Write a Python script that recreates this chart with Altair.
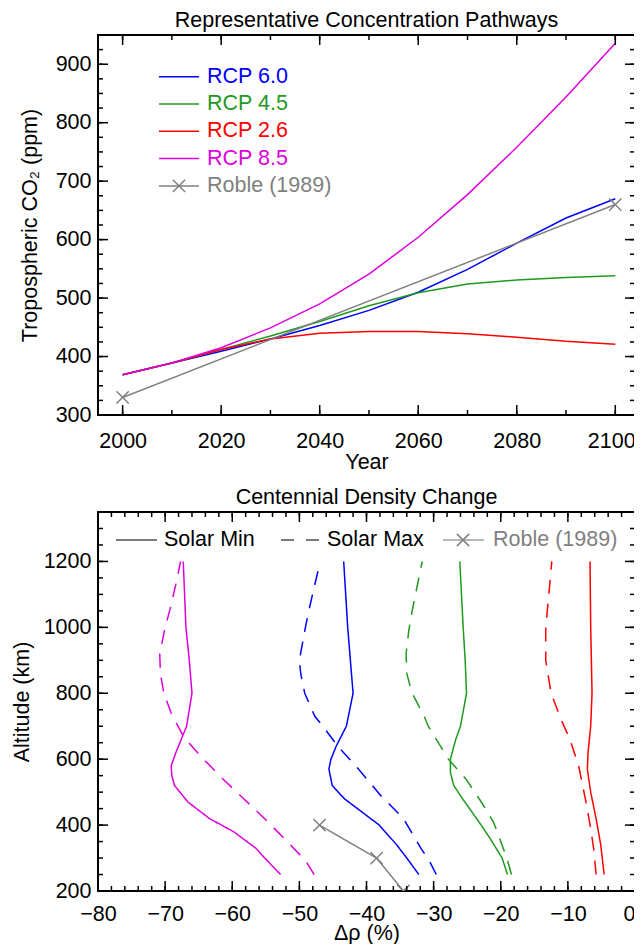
import altair as alt
import pandas as pd

FONT = "Liberation Sans"
FS = 21.5
GRAY = "#808080"
COLORS = {"RCP 6.0": "#0000FF", "RCP 4.5": "#1E9A1E", "RCP 2.6": "#FF0000", "RCP 8.5": "#DD00DD"}

# ---------------- top panel data (ppm) ----------------
years = [2000, 2010, 2020, 2030, 2040, 2050, 2060, 2070, 2080, 2090, 2100]
rcp60 = [369, 389, 409, 430, 453, 479, 510, 549, 594, 637, 670]
rcp45 = [369, 389, 412, 435, 460, 487, 509, 524, 531, 535, 538]
rcp26 = [369, 389, 412, 430, 440, 443, 443, 439, 433, 426, 421]
rcp85 = [369, 389, 415, 449, 490, 541, 604, 677, 758, 844, 936]
roble_years = [2000, 2100]
roble_co2 = [330, 660]

# ---------------- bottom panel data (altitude km, delta rho %) ----------------
alt85_min = [250, 290, 330, 380, 420, 470, 520, 550, 580, 620, 670, 700, 800, 900, 1000, 1200]
d85_min = [-52.8, -54.7, -56.5, -59.8, -63.4, -66.6, -68.6, -69.0, -69.1, -68.4, -67.4, -66.8, -66.0, -66.4, -66.9, -67.3]
alt85_max = [250, 290, 350, 420, 480, 550, 620, 670, 740, 800, 860, 920, 1000, 1060, 1140, 1200]
d85_max = [-47.8, -49.0, -51.8, -55.2, -58.3, -61.9, -65.2, -67.3, -69.1, -70.2, -70.7, -70.8, -70.0, -69.2, -68.3, -67.7]
alt60_min = [250, 300, 340, 400, 440, 480, 520, 570, 600, 640, 700, 800, 900, 1000, 1200]
d60_min = [-32.2, -34.0, -35.5, -38.1, -40.7, -43.3, -45.1, -45.6, -45.3, -44.5, -43.0, -42.0, -42.4, -42.8, -43.4]
alt60_max = [250, 290, 330, 420, 490, 570, 640, 700, 730, 800, 860, 900, 1000, 1050, 1130, 1190]
d60_max = [-29.6, -30.6, -31.9, -34.5, -37.9, -41.2, -44.3, -46.5, -47.7, -49.2, -49.8, -50.0, -49.1, -48.6, -47.7, -47.0]
alt45_min = [250, 300, 360, 420, 480, 520, 560, 600, 660, 700, 800, 900, 1000, 1200]
d45_min = [-19.0, -19.8, -21.6, -23.6, -25.7, -27.0, -27.5, -27.5, -26.7, -26.0, -25.1, -25.3, -25.6, -26.1]
alt45_max = [250, 300, 350, 410, 470, 540, 600, 660, 700, 730, 800, 860, 920, 990, 1050, 1130, 1200]
d45_max = [-18.4, -19.1, -20.0, -21.1, -22.9, -25.2, -27.8, -29.6, -30.8, -31.4, -33.2, -34.0, -34.1, -33.7, -33.2, -32.4, -31.7]
alt26_min = [250, 340, 420, 500, 570, 620, 700, 800, 1000, 1200]
d26_min = [-4.6, -5.1, -5.8, -6.6, -7.1, -7.0, -6.6, -6.4, -6.6, -6.7]
alt26_max = [250, 320, 390, 480, 580, 660, 720, 800, 900, 1000, 1130, 1200]
d26_max = [-5.8, -6.1, -6.6, -7.4, -8.4, -9.7, -11.0, -12.5, -13.3, -13.3, -12.7, -12.4]
roble_alt = [400, 300, 200]
roble_drho = [-47.0, -38.5, -34.5]

# ---------------- ticks ----------------
x1_major = list(range(2000, 2101, 20))
x1_minor = list(range(2000, 2101, 10))
y1_major = list(range(300, 901, 100))
y1_minor = list(range(300, 951, 25))
x2_major = list(range(-80, 1, 10))
x2_minor = list(range(-80, 1, 2))
y2_major = list(range(200, 1201, 200))
y2_minor = list(range(200, 1351, 50))

W1, H1 = 537, 380
W2, H2 = 537, 379
MAJ, MIN = 10, 5
XPATH = "M-1,-1L1,1M-1,1L1,-1"
XSIZE = 150

xs1 = alt.Scale(domain=[1995, 2104], nice=False, zero=False)
ys1 = alt.Scale(domain=[300, 950], nice=False, zero=False)
xs2 = alt.Scale(domain=[-80, 0], nice=False, zero=False)
ys2 = alt.Scale(domain=[200, 1350], nice=False, zero=False)


def axis(values, title, lp, tp, last=None, shift=0):
    kw = {}
    if last is not None:
        kw["labelOffset"] = alt.condition(f"datum.value == {last}", alt.value(shift), alt.value(0))
    return alt.Axis(values=values, title=title, ticks=False, domain=False, grid=False, format="d",
                    labelFlush=False, labelOverlap=False, labelPadding=lp, titlePadding=tp, **kw)


xa1 = axis(x1_major, "Year", 15, 0, last=2100, shift=-4)
ya1 = axis(y1_major, "Tropospheric CO₂ (ppm)", 7, 14)
xa2 = axis(x2_major, "Δρ (%)", 12, -2, last=0, shift=-6)
ya2 = axis(y2_major, "Altitude (km)", 7, 10)


def tick_layers(xvals_major, xvals_minor, yvals_major, yvals_minor, xs, ys, xa, ya, W, H):
    layers = []
    for vals, L in ((xvals_minor, MIN), (xvals_major, MAJ)):
        base = alt.Chart(pd.DataFrame({"v": vals})).mark_rule(color="black", strokeWidth=1.5)
        layers.append(base.encode(x=alt.X("v:Q", scale=xs, axis=xa), y=alt.value(H), y2=alt.value(H - L)))
        layers.append(base.encode(x=alt.X("v:Q", scale=xs, axis=xa), y=alt.value(0), y2=alt.value(L)))
    for vals, L in ((yvals_minor, MIN), (yvals_major, MAJ)):
        base = alt.Chart(pd.DataFrame({"v": vals})).mark_rule(color="black", strokeWidth=1.5)
        layers.append(base.encode(y=alt.Y("v:Q", scale=ys, axis=ya), x=alt.value(0), x2=alt.value(L)))
        layers.append(base.encode(y=alt.Y("v:Q", scale=ys, axis=ya), x=alt.value(W - L), x2=alt.value(W)))
    return layers


one = pd.DataFrame({"a": [0]})

# ---------------- top chart ----------------
rows = []
for name, vals in (("RCP 6.0", rcp60), ("RCP 4.5", rcp45), ("RCP 2.6", rcp26), ("RCP 8.5", rcp85)):
    for yr, v in zip(years, vals):
        rows.append({"year": yr, "co2": v, "series": name})
top_df = pd.DataFrame(rows)
roble_top = pd.DataFrame({"year": roble_years, "co2": roble_co2})

series_names = list(COLORS.keys())
color_scale = alt.Scale(domain=series_names, range=[COLORS[s] for s in series_names])

top_lines = alt.Chart(top_df).mark_line(strokeWidth=1.5, clip=True).encode(
    x=alt.X("year:Q", scale=xs1, axis=xa1),
    y=alt.Y("co2:Q", scale=ys1, axis=ya1),
    color=alt.Color("series:N", scale=color_scale, legend=None),
)
roble_line = alt.Chart(roble_top).mark_line(color=GRAY, strokeWidth=1.5, clip=True).encode(
    x=alt.X("year:Q", scale=xs1, axis=xa1), y=alt.Y("co2:Q", scale=ys1, axis=ya1))
roble_pts = alt.Chart(roble_top).mark_point(shape=XPATH, filled=False, color=GRAY, size=XSIZE,
                                             strokeWidth=1.5, opacity=1, clip=True).encode(
    x=alt.X("year:Q", scale=xs1, axis=xa1), y=alt.Y("co2:Q", scale=ys1, axis=ya1))

leg_top_names = ["RCP 6.0", "RCP 4.5", "RCP 2.6", "RCP 8.5", "Roble (1989)"]
leg_top_colors = [COLORS["RCP 6.0"], COLORS["RCP 4.5"], COLORS["RCP 2.6"], COLORS["RCP 8.5"], GRAY]
leg_top = []
for i, (n, c) in enumerate(zip(leg_top_names, leg_top_colors)):
    yy = 41.7 + 27.3 * i
    leg_top.append(alt.Chart(one).mark_rule(color=c, strokeWidth=1.5).encode(
        x=alt.value(61), x2=alt.value(101), y=alt.value(yy)))
    leg_top.append(alt.Chart(one).mark_text(text=n, color=c, align="left", baseline="middle",
                                            font=FONT, fontSize=FS).encode(x=alt.value(109), y=alt.value(yy)))
    if n.startswith("Roble"):
        leg_top.append(alt.Chart(one).mark_point(shape=XPATH, filled=False, color=c, size=XSIZE,
                                                 strokeWidth=1.5, opacity=1).encode(
            x=alt.value(81), y=alt.value(yy)))

top = alt.layer(
    top_lines, roble_line, roble_pts, *leg_top,
    *tick_layers(x1_major, x1_minor, y1_major, y1_minor, xs1, ys1, xa1, ya1, W1, H1)
).properties(
    width=W1, height=H1,
    title=alt.TitleParams("Representative Concentration Pathways", font=FONT, fontSize=FS,
                          fontWeight="normal", frame="group", anchor="middle", offset=3),
)

# ---------------- bottom chart ----------------
rows = []
for name, solar, a_list, d_list in (
    ("RCP 8.5", "min", alt85_min, d85_min), ("RCP 8.5", "max", alt85_max, d85_max),
    ("RCP 6.0", "min", alt60_min, d60_min), ("RCP 6.0", "max", alt60_max, d60_max),
    ("RCP 4.5", "min", alt45_min, d45_min), ("RCP 4.5", "max", alt45_max, d45_max),
    ("RCP 2.6", "min", alt26_min, d26_min), ("RCP 2.6", "max", alt26_max, d26_max),
):
    for k, (a, d) in enumerate(zip(a_list, d_list)):
        rows.append({"alt": a, "drho": d, "series": name, "solar": solar, "idx": k})
bot_df = pd.DataFrame(rows)
roble_bot = pd.DataFrame({"alt": roble_alt, "drho": roble_drho, "idx": list(range(len(roble_alt)))})

DASH = [14, 10]
bot_lines = alt.Chart(bot_df).mark_line(strokeWidth=1.5, clip=True).encode(
    x=alt.X("drho:Q", scale=xs2, axis=xa2),
    y=alt.Y("alt:Q", scale=ys2, axis=ya2),
    color=alt.Color("series:N", scale=color_scale, legend=None),
    strokeDash=alt.StrokeDash("solar:N", scale=alt.Scale(domain=["min", "max"], range=[[1, 0], DASH]), legend=None),
    order="idx:Q",
)
roble_bline = alt.Chart(roble_bot).mark_line(color=GRAY, strokeWidth=1.5, clip=True).encode(
    x=alt.X("drho:Q", scale=xs2, axis=xa2), y=alt.Y("alt:Q", scale=ys2, axis=ya2), order="idx:Q")
roble_bpts = alt.Chart(roble_bot).mark_point(shape=XPATH, filled=False, color=GRAY, size=XSIZE,
                                             strokeWidth=1.5, opacity=1, clip=True).encode(
    x=alt.X("drho:Q", scale=xs2, axis=xa2), y=alt.Y("alt:Q", scale=ys2, axis=ya2))

LY = 28
leg_bot = [
    alt.Chart(one).mark_rule(color="#505050", strokeWidth=1.5).encode(x=alt.value(18), x2=alt.value(59), y=alt.value(LY)),
    alt.Chart(one).mark_text(text="Solar Min", color="black", align="left", baseline="middle", font=FONT,
                             fontSize=FS).encode(x=alt.value(66), y=alt.value(LY)),
    alt.Chart(one).mark_rule(color="#505050", strokeWidth=1.5, strokeDash=[13, 12]).encode(
        x=alt.value(183), x2=alt.value(223), y=alt.value(LY)),
    alt.Chart(one).mark_text(text="Solar Max", color="black", align="left", baseline="middle", font=FONT,
                             fontSize=FS).encode(x=alt.value(229), y=alt.value(LY)),
    alt.Chart(one).mark_rule(color="#A0A0A0", strokeWidth=1.5).encode(x=alt.value(345), x2=alt.value(386), y=alt.value(LY)),
    alt.Chart(one).mark_point(shape=XPATH, filled=False, color=GRAY, size=XSIZE, strokeWidth=1.5, opacity=1).encode(
        x=alt.value(365), y=alt.value(LY)),
    alt.Chart(one).mark_text(text="Roble (1989)", color=GRAY, align="left", baseline="middle", font=FONT,
                             fontSize=FS).encode(x=alt.value(395), y=alt.value(LY)),
]

bottom = alt.layer(
    bot_lines, roble_bline, roble_bpts, *leg_bot,
    *tick_layers(x2_major, x2_minor, y2_major, y2_minor, xs2, ys2, xa2, ya2, W2, H2)
).properties(
    width=W2, height=H2,
    title=alt.TitleParams("Centennial Density Change", font=FONT, fontSize=FS,
                          fontWeight="normal", frame="group", anchor="middle", offset=3),
)

chart = alt.vconcat(top, bottom, spacing=11).properties(
    padding={"left": 2, "top": 0, "right": -3, "bottom": -1}
).configure_view(stroke="black", strokeWidth=2).configure_axis(
    labelFont=FONT, labelFontSize=FS, labelColor="black",
    titleFont=FONT, titleFontSize=FS, titleColor="black", titleFontWeight="normal",
).configure_title(color="black")

chart.save("out.html", embed_options={"renderer": "svg", "actions": False})
